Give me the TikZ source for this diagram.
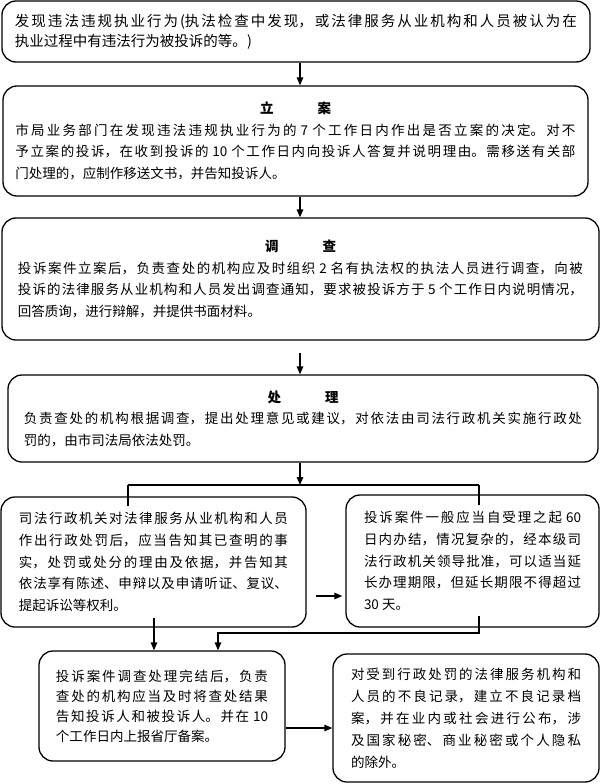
\documentclass[tikz,border=0pt]{standalone}
\usepackage{fontspec}
\setmainfont{Noto Sans CJK SC}
\usetikzlibrary{arrows.meta}
\XeTeXlinebreaklocale "zh"
\XeTeXlinebreakskip=0pt plus 3pt
\newcommand{\boxtitle}[2]{{\centering\bfseries #1\hspace{44bp}#2\par}}
\begin{document}
\begin{tikzpicture}[x=1bp,y=-1bp,
  box/.style={draw, line width=1.3bp, rounded corners=14bp, inner sep=0pt, align=justify,
    font=\fontsize{13.5bp}{21.5bp}\selectfont},
  conn/.style={line width=1.3bp},
  arr/.style={conn, -{Triangle[length=8bp,width=6.5bp]}}]
\useasboundingbox (0,0) rectangle (600,784);

\node[box, font=\fontsize{14.5bp}{20bp}\selectfont, minimum width=588bp, minimum height=61bp, text width=562bp] (b1) at (296,31.5)
{发现违法违规执业行为(执法检查中发现，或法律服务从业机构和人员被认为在\linebreak 执业过程中有违法行为被投诉的等。)};

\node[box, minimum width=585bp, minimum height=110bp, text width=560bp] (b2) at (295.5,141)
{\boxtitle{立}{案}市局业务部门在发现违法违规执业行为的 7 个工作日内作出是否立案的决定。对不\linebreak 予立案的投诉，在收到投诉的 10 个工作日内向投诉人答复并说明理由。需移送有关部\linebreak 门处理的，应制作移送文书，并告知投诉人。};

\node[box, minimum width=597bp, minimum height=122bp, text width=565bp] (b3) at (300.5,279)
{\boxtitle{调}{查}投诉案件立案后，负责查处的机构应及时组织 2 名有执法权的执法人员进行调查，向被\linebreak 投诉的法律服务从业机构和人员发出调查通知，要求被投诉方于 5 个工作日内说明情况，\linebreak 回答质询，进行辩解，并提供书面材料。};

\node[box, minimum width=590bp, minimum height=87bp, text width=558bp] (b4) at (303,418.5)
{\boxtitle{处}{理}负责查处的机构根据调查，提出处理意见或建议，对依法由司法行政机关实施行政处\linebreak 罚的，由市司法局依法处罚。};

\node[box, font=\fontsize{13.5bp}{21.75bp}\selectfont, minimum width=305bp, minimum height=130bp, text width=269bp] (b5) at (153.5,562)
{司法行政机关对法律服务从业机构和人员\linebreak 作出行政处罚后，应当告知其已查明的事\linebreak 实，处罚或处分的理由及依据，并告知其\linebreak 依法享有陈述、申辩以及申请听证、复议、\linebreak 提起诉讼等权利。};

\node[box, font=\fontsize{13.5bp}{21.75bp}\selectfont, minimum width=253bp, minimum height=132bp, text width=217bp] (b6) at (472.5,561)
{投诉案件一般应当自受理之起 60\linebreak 日内办结，情况复杂的，经本级司\linebreak 法行政机关领导批准，可以适当延\linebreak 长办理期限，但延长期限不得超过\linebreak 30 天。};

\node[box, font=\fontsize{13.5bp}{20bp}\selectfont, minimum width=246bp, minimum height=110bp, text width=212bp] (b7) at (162,706)
{投诉案件调查处理完结后，负责\linebreak 查处的机构应当及时将查处结果\linebreak 告知投诉人和被投诉人。并在 10\linebreak 个工作日内上报省厅备案。};

\node[box, font=\fontsize{13.5bp}{22bp}\selectfont, minimum width=266bp, minimum height=128bp, text width=230bp] (b8) at (466,718)
{对受到行政处罚的法律服务机构和\linebreak 人员的不良记录，建立不良记录档\linebreak 案，并在业内或社会进行公布，涉\linebreak 及国家秘密、商业秘密或个人隐私\linebreak 的除外。};

\coordinate (cx) at (300,0);
\coordinate (jL) at (128,485);
\coordinate (jR) at (479,485);
\coordinate (r5) at (0,596);
\coordinate (x154) at (154,0);
\coordinate (k1) at (479,633);
\coordinate (k2) at (218,633);
\coordinate (r7) at (0,728);

\draw[arr] (b1.south -| cx) -- (b2.north -| cx);
\draw[arr] (b2.south -| cx) -- (b3.north -| cx);
\draw[arr, shorten <=12bp] (b3.south -| cx) -- (b4.north -| cx);
\draw[arr] (b4.south -| cx) -- (jL -| cx);
\draw[conn] (jL) -- (jR);
\draw[conn] (jL) -- ([yshift=-10bp]b5.north -| jL);
\draw[conn] (jR) -- ([yshift=-11bp]b6.north -| jR);
\draw[arr, shorten <=9bp, shorten >=3bp] (b5.east |- r5) -- (b6.west |- r5);
\draw[arr] ([yshift=10bp]b5.south -| x154) -- (b7.north -| x154);
\draw[arr] ([yshift=12bp]b6.south -| k1) -- (k1) -- (k2) -- (b7.north -| k2);
\draw[arr] (b7.east |- r7) -- (b8.west |- r7);
\end{tikzpicture}
\end{document}
